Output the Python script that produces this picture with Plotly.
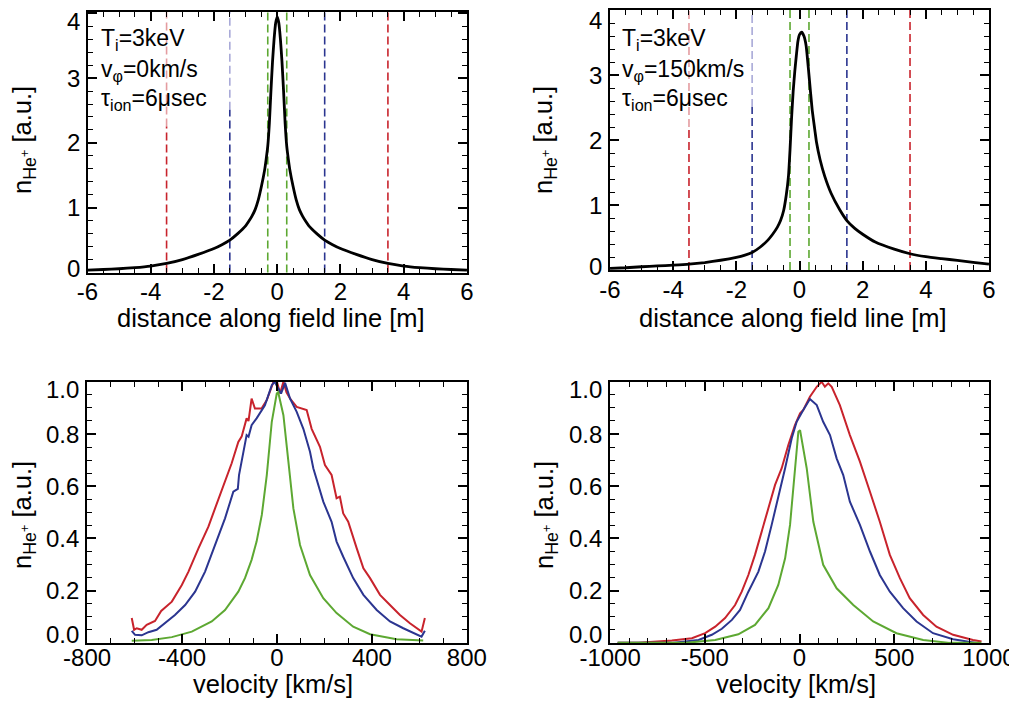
import plotly.graph_objects as go
from plotly.subplots import make_subplots

# ---- top row: density along field line ----
dist_v0 = [-6, -5.5, -5, -4.5, -4, -3.5, -3, -2.5, -2, -1.75, -1.5, -1.25, -1.0, -0.9, -0.8, -0.7,
           -0.6, -0.5, -0.4, -0.35, -0.3, -0.25, -0.2, -0.15, -0.1, -0.05, 0,
           0.05, 0.1, 0.15, 0.2, 0.25, 0.3, 0.35, 0.4, 0.5, 0.6, 0.7, 0.8, 0.9, 1.0, 1.25, 1.5, 1.75,
           2, 2.5, 3, 3.5, 4, 4.5, 5, 5.5, 6]
dens_v0 = [0.037, 0.046, 0.058, 0.075, 0.1, 0.14, 0.2, 0.28, 0.37, 0.43, 0.5, 0.6, 0.72, 0.79, 0.87, 0.97,
           1.12, 1.33, 1.58, 1.75, 1.95, 2.3, 2.8, 3.25, 3.6, 3.85, 3.95,
           3.85, 3.6, 3.25, 2.8, 2.3, 1.95, 1.75, 1.58, 1.33, 1.12, 0.97, 0.87, 0.79, 0.72, 0.6, 0.5, 0.43,
           0.37, 0.28, 0.2, 0.14, 0.1, 0.075, 0.058, 0.046, 0.037]

dist_v150 = [-6, -5.5, -5, -4.5, -4, -3.5, -3, -2.5, -2, -1.75, -1.5, -1.25, -1.0, -0.85, -0.7, -0.6,
             -0.5, -0.42, -0.35, -0.3, -0.25, -0.2, -0.15, -0.1, -0.05, 0.0, 0.07, 0.14, 0.21, 0.3,
             0.4, 0.5, 0.54, 0.65, 0.8, 1.0, 1.27, 1.5, 1.75, 2.0, 2.4, 3.0, 3.5, 4.0, 4.5, 5.0, 5.5, 6.0]
dens_v150 = [0.026, 0.035, 0.05, 0.062, 0.075, 0.09, 0.115, 0.15, 0.195, 0.225, 0.27, 0.35, 0.46, 0.55, 0.66,
             0.76, 0.92, 1.15, 1.44, 1.85, 2.35, 2.75, 3.05, 3.3, 3.52, 3.62, 3.66, 3.6, 3.45, 3.0,
             2.47, 2.1, 1.96, 1.7, 1.44, 1.18, 0.93, 0.76, 0.64, 0.55, 0.43, 0.32, 0.25, 0.205, 0.175,
             0.148, 0.118, 0.09]

# dashed markers along the field line (red, blue, green pairs)
red_pos = [-3.5, 3.5]
blue_pos = [-1.5, 1.5]
green_pos = [-0.3, 0.3]

# ---- bottom-left: velocity distributions, v_phi = 0 ----
bl_red_v = [-612, -602, -591, -570, -549, -514, -488, -443, -401, -373, -331, -289, -261, -226, -191,
            -163, -149, -128, -120, -107, -93, -65, -43, -15, 0, 13, 27, 40, 55, 83, 125, 146, 181, 202,
            230, 251, 265, 279, 300, 336, 364, 392, 434, 476, 518, 560, 609, 623]
bl_red_n = [0.095, 0.05, 0.056, 0.05, 0.069, 0.084, 0.122, 0.158, 0.222, 0.273, 0.362, 0.445, 0.515, 0.605,
            0.688, 0.77, 0.79, 0.86, 0.85, 0.936, 0.898, 0.898, 0.93, 1.0, 1.0, 0.955, 1.0, 0.96, 0.936,
            0.904, 0.892, 0.82, 0.751, 0.681, 0.643, 0.554, 0.56, 0.496, 0.464, 0.362, 0.286, 0.248,
            0.184, 0.145, 0.107, 0.075, 0.043, 0.095]

bl_blue_v = [-612, -598, -570, -542, -507, -472, -430, -387, -345, -303, -261, -219, -184, -165, -160,
             -142, -128, -120, -107, -86, -51, -22, -10, 17, 34, 55, 83, 111, 139, 153, 195, 230, 251,
             279, 321, 364, 420, 476, 532, 609, 623]
bl_blue_n = [0.046, 0.031, 0.029, 0.041, 0.05, 0.075, 0.107, 0.145, 0.196, 0.273, 0.375, 0.477, 0.579,
             0.59, 0.643, 0.726, 0.796, 0.79, 0.834, 0.86, 0.91, 0.987, 1.0, 0.955, 0.996, 0.936, 0.885,
             0.82, 0.732, 0.669, 0.541, 0.464, 0.388, 0.33, 0.248, 0.184, 0.126, 0.082, 0.056, 0.024,
             0.046]

bl_green_v = [-612, -528, -443, -359, -275, -219, -163, -135, -107, -86, -64, -43, -22, -1, 5, 27, 48,
              69, 97, 139, 195, 251, 321, 392, 504, 616]
bl_green_n = [0.008, 0.011, 0.022, 0.043, 0.082, 0.126, 0.196, 0.248, 0.318, 0.388, 0.49, 0.643, 0.847,
              0.955, 0.96, 0.872, 0.694, 0.515, 0.375, 0.26, 0.171, 0.114, 0.062, 0.033, 0.014, 0.009]

# ---- bottom-right: velocity distributions, v_phi = 150 km/s ----
br_red_v = [-960, -850, -674, -568, -498, -445, -393, -340, -305, -270, -235, -199, -164, -129, -94,
            -59, -24, 3, 20, 55, 91, 117, 134, 152, 170, 213, 266, 319, 372, 424, 477, 530, 582, 653,
            723, 811, 916, 961]
br_red_n = [0.0, 0.0, 0.009, 0.018, 0.037, 0.062, 0.095, 0.145, 0.196, 0.26, 0.337, 0.426, 0.515, 0.605,
            0.669, 0.758, 0.834, 0.879, 0.892, 0.943, 0.981, 1.0, 0.981, 0.994, 0.981, 0.911, 0.796,
            0.694, 0.579, 0.464, 0.337, 0.248, 0.171, 0.107, 0.062, 0.031, 0.011, 0.005]

br_blue_v = [-960, -674, -533, -463, -410, -357, -314, -270, -217, -182, -147, -112, -76, -41, -15, 20,
             55, 91, 125, 161, 196, 231, 266, 319, 372, 424, 477, 547, 618, 705, 811, 934]
br_blue_n = [0.0, 0.0, 0.011, 0.031, 0.054, 0.088, 0.126, 0.196, 0.273, 0.35, 0.452, 0.554, 0.669, 0.784,
             0.847, 0.892, 0.934, 0.911, 0.847, 0.796, 0.707, 0.643, 0.541, 0.452, 0.35, 0.26, 0.196,
             0.133, 0.082, 0.037, 0.014, 0.0]

br_green_v = [-960, -600, -445, -323, -235, -164, -112, -76, -50, -33, -15, -6, 3, 38, 73, 125, 196, 284,
              389, 512, 653, 793, 960]
br_green_n = [0.0, 0.0, 0.011, 0.033, 0.069, 0.133, 0.222, 0.324, 0.452, 0.579, 0.732, 0.809, 0.815,
              0.669, 0.464, 0.299, 0.209, 0.145, 0.082, 0.037, 0.011, 0.0, 0.0]

# tick labels (plain hyphen minus, like the original)
dist_ticks = [-6, -4, -2, 0, 2, 4, 6]
dist_labels = ["-6", "-4", "-2", "0", "2", "4", "6"]
dens_ticks = [0, 1, 2, 3, 4]
dens_labels = ["0", "1", "2", "3", "4"]
vel_ticks_l = [-800, -400, 0, 400, 800]
vel_labels_l = ["-800", "-400", "0", "400", "800"]
vel_ticks_r = [-1000, -500, 0, 500, 1000]
vel_labels_r = ["-1000", "-500", "0", "500", "1000"]
norm_ticks = [0, 0.2, 0.4, 0.6, 0.8, 1.0]
norm_labels = ["0.0", "0.2", "0.4", "0.6", "0.8", "1.0"]

RED = "#c8232c"
BLUE = "#2b3590"
GREEN = "#5da832"
PINK = "#e49ca0"
LAVENDER = "#a9aad8"
FONT = "Liberation Sans, Arial, Helvetica, sans-serif"

# the page body has an 8px margin, so the figure is drawn 8px in from the window corner
OFF = 8
W, H = 1017 - OFF, 705 - OFF


def px_x(p):
    return (p - OFF) / W


def px_y(p):
    return 1 - (p - OFF) / H


fig = make_subplots(rows=2, cols=2)

# top row curves
fig.add_trace(go.Scatter(x=dist_v0, y=dens_v0, mode="lines", line=dict(color="black", width=2.8, shape="spline", smoothing=0.5)), row=1, col=1)
fig.add_trace(go.Scatter(x=dist_v150, y=dens_v150, mode="lines", line=dict(color="black", width=2.8, shape="spline", smoothing=0.5)), row=1, col=2)

# bottom row curves
for v, n, c in [(bl_red_v, bl_red_n, RED), (bl_blue_v, bl_blue_n, BLUE), (bl_green_v, bl_green_n, GREEN)]:
    fig.add_trace(go.Scatter(x=v, y=n, mode="lines", line=dict(color=c, width=2)), row=2, col=1)
for v, n, c in [(br_red_v, br_red_n, RED), (br_blue_v, br_blue_n, BLUE), (br_green_v, br_green_n, GREEN)]:
    fig.add_trace(go.Scatter(x=v, y=n, mode="lines", line=dict(color=c, width=2)), row=2, col=2)

# dashed vertical lines in top panels (upper part of left red/blue lines is faded under the labels)
dash = "8px,4px"
for xa, ya, fade_red, fade_blue in [("x", "y", 0.56, 0.625), ("x2", "y2", 0.55, 0.627)]:
    for pos, col in [(red_pos, RED), (blue_pos, BLUE), (green_pos, GREEN)]:
        for xv in pos:
            lo_top = 1
            if xv < 0 and col in (RED, BLUE):
                fade = fade_red if col == RED else fade_blue
                light = PINK if col == RED else LAVENDER
                fig.add_shape(type="line", xref=xa, yref=ya + " domain", x0=xv, x1=xv, y0=fade, y1=1,
                              line=dict(color=light, width=1.6, dash=dash), layer="below")
                lo_top = fade
            fig.add_shape(type="line", xref=xa, yref=ya + " domain", x0=xv, x1=xv, y0=0, y1=lo_top,
                          line=dict(color=col, width=1.6, dash=dash), layer="below")

tick_font = dict(family=FONT, size=24, color="black")
axis_common = dict(showline=True, linecolor="black", linewidth=2, mirror="allticks", ticks="inside",
                   ticklen=9, tickwidth=1.6, tickcolor="black", showgrid=False, zeroline=False,
                   automargin=False, ticklabeloverflow="allow", tickfont=tick_font, tickmode="array")


def minor(step):
    return dict(tickmode="linear", tick0=0, dtick=step, ticks="inside", ticklen=5,
                tickcolor="black", tickwidth=1.4)


# top-left
fig.update_xaxes(axis_common, domain=[px_x(87.5), px_x(467)], range=[-6.001, 6.001], ticklabelstandoff=-3,
                 tickvals=dist_ticks, ticktext=dist_labels, minor=minor(0.5), row=1, col=1)
fig.update_yaxes(axis_common, domain=[px_y(272.5), px_y(12)], range=[0, 4.02], showticklabels=False,
                 tickvals=dens_ticks, minor=minor(0.2), row=1, col=1)
# top-right
fig.update_xaxes(axis_common, domain=[px_x(610), px_x(989)], range=[-6.001, 6.001], ticklabelstandoff=-3,
                 tickvals=dist_ticks, ticktext=dist_labels, minor=minor(0.5), row=1, col=2)
fig.update_yaxes(axis_common, domain=[px_y(270), px_y(10)], range=[0, 4.0], showticklabels=False,
                 tickvals=dens_ticks, minor=minor(0.2), row=1, col=2)
# bottom-left
fig.update_xaxes(axis_common, domain=[px_x(87), px_x(467)], range=[-800.5, 800.5], ticklabelstandoff=-8,
                 tickvals=vel_ticks_l, ticktext=vel_labels_l, minor=minor(100), row=2, col=1)
fig.update_yaxes(axis_common, domain=[px_y(643), px_y(381.7)], range=[-0.0005, 1.0005], showticklabels=False,
                 tickvals=norm_ticks, minor=minor(0.05), row=2, col=1)
# bottom-right
fig.update_xaxes(axis_common, domain=[px_x(610), px_x(989)], range=[-1000.5, 1000.5], ticklabelstandoff=-8,
                 tickvals=vel_ticks_r, ticktext=vel_labels_r, minor=minor(100), row=2, col=2)
fig.update_yaxes(axis_common, domain=[px_y(643), px_y(381.7)], range=[-0.0005, 1.0005], showticklabels=False,
                 tickvals=norm_ticks, minor=minor(0.05), row=2, col=2)

ann = []

# y tick labels: end labels sit a little inside the axis ends, as in the original
for xa, ya, vals, texts, lo_shift, hi_shift in [("x", "y", dens_ticks, dens_labels, 4, -8),
                                                ("x2", "y2", dens_ticks, dens_labels, 4, -10),
                                                ("x3", "y3", norm_ticks, norm_labels, 8, -8),
                                                ("x4", "y4", norm_ticks, norm_labels, 8, -8)]:
    for i, (v, t) in enumerate(zip(vals, texts)):
        shift = lo_shift if i == 0 else (hi_shift if i == len(vals) - 1 else 0)
        ann.append(dict(x=0, y=v, xref=xa + " domain", yref=ya, text=t, showarrow=False, font=tick_font,
                        xanchor="right", yanchor="middle", xshift=-6, yshift=shift))

title_font = dict(family=FONT, size=25.5, color="black")
ytitle = "n<sub>He<sup>+</sup></sub> [a.u.]"
for x, y, t in [(271, 318, "distance along field line [m]"), (793, 318, "distance along field line [m]"),
                (273, 684, "velocity [km/s]"), (796, 684, "velocity [km/s]")]:
    ann.append(dict(x=px_x(x), y=px_y(y), xref="paper", yref="paper", text=t, showarrow=False,
                    font=title_font, xanchor="center", yanchor="middle"))
for x, y in [(24, 140), (545, 140), (24, 515), (546, 515)]:
    ann.append(dict(x=px_x(x), y=px_y(y), xref="paper", yref="paper", text=ytitle, showarrow=False,
                    font=title_font, textangle=-90, xanchor="center", yanchor="middle"))

label_font = dict(family=FONT, size=23, color="black")
for x0, vphi in [(99, "0"), (620, "150")]:
    lines = ["T<sub>i</sub>=3keV", "v<sub>φ</sub>=" + vphi + "km/s", "τ<sub>ion</sub>=6μsec"]
    for i, t in enumerate(lines):
        ann.append(dict(x=px_x(x0), y=px_y(40 + 30 * i), xref="paper", yref="paper", text=t,
                        showarrow=False, font=label_font, xanchor="left", yanchor="middle"))

fig.update_layout(width=W, height=H, margin=dict(l=0, r=0, t=0, b=0), showlegend=False,
                  plot_bgcolor="white", paper_bgcolor="white", annotations=ann,
                  font=dict(family=FONT, color="black"))

fig.write_html("out.html")
